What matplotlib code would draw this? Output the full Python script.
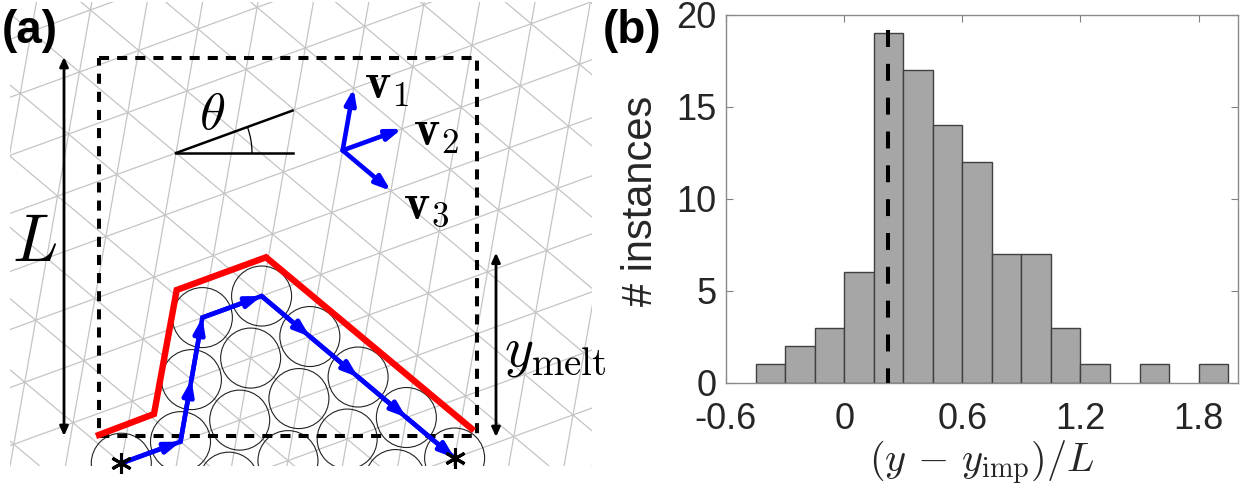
import numpy as np
import matplotlib
matplotlib.use('Agg')
import matplotlib.pyplot as plt
from matplotlib.patches import Circle, Arc, Rectangle
from matplotlib.collections import LineCollection

plt.rcParams['font.family'] = ['Liberation Sans', 'DejaVu Sans']
plt.rcParams['mathtext.fontset'] = 'cm'

# ---------------- panel (b): histogram data ----------------
bin_edges = [-0.45, -0.30, -0.15, 0.00, 0.15, 0.30, 0.45, 0.60, 0.75,
             0.90, 1.05, 1.20, 1.35, 1.50, 1.65, 1.80, 1.95]
counts = [1, 2, 3, 6, 19, 17, 14, 12, 7, 7, 3, 1, 0, 1, 0, 1]
marker_x = 0.225
marker_top = 19.2
x_ticks = [-0.6, 0, 0.6, 1.2, 1.8]
x_tick_labels = ['-0.6', '0', '0.6', '1.2', '1.8']
y_ticks = [0, 5, 10, 15, 20]
y_tick_labels = ['0', '5', '10', '15', '20']

# ---------------- panel (a): schematic data (lattice indices) ----------------
theta_deg = 20.0
circle_n = [1, 2, 1, 2, 3, 0, 1, 2, 3, 4, 2, 3, 4, 5, 4, 5, 6]
circle_m = [-3, -3, -4, -4, -4, -5, -5, -5, -5, -5, -6, -6, -6, -6, -7, -7, -7]
path_n = [0, 1, 1, 1, 2, 3, 4, 5, 6]
path_m = [-5, -5, -4, -3, -3, -4, -5, -6, -7]
basis_origin_nm = (3, -1)
basis_tip_n = [3, 4, 4]
basis_tip_m = [0, -1, -2]
basis_labels = [r'$\mathbf{v}_1$', r'$\mathbf{v}_2$', r'$\mathbf{v}_3$']
boundary_x = [96, 154, 176.7, 266, 474]
boundary_y = [436, 414, 290, 257.3, 430.7]

# ---------------- figure ----------------
W, H = 1241, 492
fig = plt.figure(figsize=(W / 100, H / 100), dpi=100)

# panel (a) axes in pixel-like units
ax = fig.add_axes([0, 0, 620 / W, 1])
ax.set_xlim(0, 620)
ax.set_ylim(492, 0)
ax.axis('off')

O = np.array([176.0, 153.0])
s = 63.0
t = np.deg2rad(theta_deg)
a1 = s * np.array([np.cos(t), -np.sin(t)])
a2 = s * np.array([np.cos(t + np.pi / 3), -np.sin(t + np.pi / 3)])
a3 = a2 - a1


def site(n, m):
    return O + n * a1 + m * a2


segs = []
for k in range(-20, 21):
    p = site(0, k)
    segs.append([p - 30 * a1, p + 30 * a1])
    p = site(k, 0)
    segs.append([p - 30 * a2, p + 30 * a2])
    segs.append([p - 30 * a3, p + 30 * a3])
lc = LineCollection(segs, colors='#c4c4c4', linewidths=0.9, zorder=1)
ax.add_collection(lc)
clip = Rectangle((10, 2), 582, 464, transform=ax.transData, fc='none', ec='none')
ax.add_patch(clip)
lc.set_clip_path(clip)

clip2 = Rectangle((0, 0), 620, 466, transform=ax.transData, fc='none', ec='none')
ax.add_patch(clip2)
for n, m in zip(circle_n, circle_m):
    c = Circle(site(n, m), 30, fill=False, ec='#222222', lw=0.8, zorder=2)
    ax.add_patch(c)
    c.set_clip_path(clip2)

# dashed box
bx = [98.5, 477, 477, 98.5, 98.5]
by = [57.5, 57.5, 436, 436, 57.5]
ax.plot(bx, by, color='k', lw=2.9, ls=(0, (2.5, 2.0)), zorder=3)

# red boundary
ax.plot(boundary_x, boundary_y, color='red', lw=4.6, solid_joinstyle='miter',
        solid_capstyle='butt', zorder=4)

# blue path
pts = np.array([site(n, m) for n, m in zip(path_n, path_m)])
ax.plot(pts[:, 0], pts[:, 1], color='blue', lw=3.3, solid_joinstyle='miter', zorder=5)
astyle = '-|>,head_length=0.9,head_width=0.32'
for i in range(len(pts) - 1):
    ax.annotate('', xy=pts[i + 1], xytext=pts[i],
                arrowprops=dict(arrowstyle=astyle, color='blue', lw=3.3,
                                shrinkA=0, shrinkB=0, mutation_scale=10), zorder=5)

# basis vectors
bo = site(*basis_origin_nm)
for n, m in zip(basis_tip_n, basis_tip_m):
    ax.annotate('', xy=site(n, m), xytext=bo,
                arrowprops=dict(arrowstyle=astyle, color='blue', lw=3.3,
                                shrinkA=0, shrinkB=0, mutation_scale=10), zorder=5)
label_pos = [(387, 86), (436.5, 132.5), (426.5, 206)]
for lab, (lx, ly) in zip(basis_labels, label_pos):
    ax.text(lx, ly, lab, fontsize=36, ha='center', va='center', zorder=7)

# stars
star_pts = pts[[0, -1]]
ax.plot(star_pts[:, 0], star_pts[:, 1], ls='none', marker=(6, 2, 0), ms=15,
        mew=2.2, color='k', zorder=6)

# theta
th_end = O + 124 * np.array([np.cos(t), -np.sin(t)])
ax.plot([O[0], O[0] + 117], [O[1], O[1]], color='k', lw=1.8, zorder=3)
ax.plot([O[0], th_end[0]], [O[1], th_end[1]], color='k', lw=1.8, zorder=3)
ax.add_patch(Arc(O, 152, 152, theta1=-theta_deg, theta2=0, lw=0.9, color='k', zorder=3))
ax.text(211.7, 115, r'$\theta$', fontsize=38, ha='center', va='center', zorder=7)

# L and y_melt double arrows
dstyle = '<|-|>,head_length=0.55,head_width=0.25'
ax.annotate('', xy=(64, 57), xytext=(64, 436),
            arrowprops=dict(arrowstyle=dstyle, color='k', lw=2.0, shrinkA=0,
                            shrinkB=0, mutation_scale=10), zorder=6)
ax.annotate('', xy=(496, 252.7), xytext=(496, 437),
            arrowprops=dict(arrowstyle=dstyle, color='k', lw=2.0, shrinkA=0,
                            shrinkB=0, mutation_scale=10), zorder=6)
ax.text(34, 244, r'$L$', fontsize=48, ha='center', va='center', zorder=7)
ax.text(555, 353, r'$y_{\rm melt}$', fontsize=40, ha='center', va='center', zorder=7)

# panel labels
fig.text(2 / W, 1 - 43 / H, '(a)', fontsize=33, fontweight='bold', ha='left', va='baseline')
fig.text(603 / W, 1 - 43.3 / H, '(b)', fontsize=33, fontweight='bold', ha='left', va='baseline')

# ---------------- panel (b) ----------------
L, R, T, B = 726, 1238, 15, 382.7
bx_ = fig.add_axes([L / W, 1 - B / H, (R - L) / W, (B - T) / H])
left = np.array(bin_edges[:-1])
widths = np.diff(bin_edges)
cnt = np.array(counts)
mask = cnt > 0
bx_.bar(left[mask], cnt[mask], width=widths[mask], align='edge', color='#a6a6a6',
        edgecolor='#404040', linewidth=1.0, zorder=2)
bx_.plot([marker_x, marker_x], [marker_top, 0], color='k', lw=2.9,
         ls=(0, (4.2, 4.2)), zorder=3)
bx_.set_xlim(-0.6, 2.0)
bx_.set_ylim(0, 20)
bx_.set_xticks(x_ticks)
bx_.set_xticklabels(x_tick_labels)
bx_.set_yticks(y_ticks)
bx_.set_yticklabels(y_tick_labels)
bx_.tick_params(direction='in', length=5, width=0.8, color='#808080',
                labelsize=26, labelcolor='#262626', top=True, right=True)
bx_.tick_params(axis='x', pad=14)
bx_.tick_params(axis='y', pad=7)
for sp in bx_.spines.values():
    sp.set_color('#8a8a8a')
    sp.set_linewidth(1.0)
bx_.set_ylabel('# instances', fontsize=30, color='#262626', va='center')
bx_.yaxis.set_label_coords((640.5 - L) / (R - L), (B - 201) / (B - T))
bx_.set_xlabel(r'$(y\,-\,y_{\rm imp})/L$', fontsize=29, color='#262626', va='center')
bx_.xaxis.set_label_coords(0.5, (B - 462.5) / (B - T))

fig.savefig('out.png', dpi=100)
